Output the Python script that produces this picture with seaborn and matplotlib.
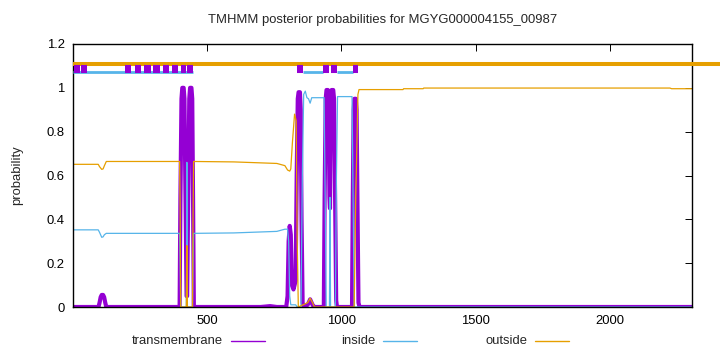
import matplotlib
matplotlib.use("Agg")
import matplotlib.pyplot as plt
from matplotlib.lines import Line2D
import numpy as np
import pandas as pd
import seaborn as sns

# ---------------- data ----------------
title = "TMHMM posterior probabilities for MGYG000004155_00987"
seq_len = 2306

# transmembrane posterior (residue, probability)
tm_pos = [1, 96, 100, 104, 108, 113, 117, 121, 125,
          398, 401, 405, 408, 413, 416, 420, 424, 426, 430, 434, 437, 442, 445, 448, 451,
          700, 735, 760, 795, 800, 804, 808, 812, 816, 822, 830, 834, 838, 841, 846, 849, 852, 856, 860,
          875, 884, 893, 900, 935, 938, 942, 945, 950, 953, 956, 958, 961, 964, 970, 973, 977, 981, 984,
          1040, 1043, 1046, 1049, 1054, 1057, 1060, 1064, 1068, 2306]
tm_val = [0, 0, 0.02, 0.045, 0.055, 0.055, 0.045, 0.02, 0,
          0, 0.5, 0.95, 1.0, 1.0, 0.95, 0.5, 0.05, 0.05, 0.5, 0.95, 1.0, 1.0, 0.95, 0.5, 0,
          0, 0.004, 0, 0, 0.05, 0.3, 0.37, 0.33, 0.1, 0.08, 0.12, 0.6, 0.95, 0.98, 0.98, 0.9, 0.4, 0.02, 0,
          0.01, 0.035, 0.01, 0, 0, 0.5, 0.95, 0.99, 0.99, 0.95, 0.5, 0.45, 0.95, 0.99, 0.99, 0.95, 0.5, 0.03, 0,
          0, 0.5, 0.9, 0.95, 0.95, 0.9, 0.5, 0.02, 0, 0]

# inside posterior
in_pos = [1, 95, 100, 108, 113, 118, 125, 398, 400, 402, 423, 425, 427, 446, 448, 450,
          600, 760, 790, 800, 804, 808, 812, 830, 836, 850, 855, 860, 866, 872, 878, 884, 890,
          936, 940, 944, 956, 958, 960, 978, 982, 986, 1040, 1044, 1048, 2306]
in_val = [0.352, 0.352, 0.34, 0.318, 0.32, 0.33, 0.336, 0.336, 0.2, 0.0, 0.0, 0.66, 0.0, 0.0, 0.2, 0.336,
          0.338, 0.345, 0.355, 0.355, 0.30, 0.05, 0.01, 0.01, 0.0, 0.0, 0.6, 0.97, 0.985, 0.955, 0.95, 0.93, 0.955,
          0.955, 0.5, 0.0, 0.0, 0.5, 0.0, 0.0, 0.6, 0.96, 0.96, 0.5, 0.0, 0.0]

# outside posterior
out_pos = [1, 95, 100, 108, 113, 118, 125, 398, 400, 402, 423, 425, 427, 446, 448, 450,
           600, 760, 790, 800, 808, 812, 818, 826, 832, 836, 840, 875, 884, 893, 900,
           1048, 1054, 1062, 1066, 1230, 1232, 1305, 1307, 2224, 2230, 2306]
out_val = [0.651, 0.651, 0.64, 0.628, 0.63, 0.645, 0.664, 0.664, 0.45, 0.0, 0.0, 0.28, 0.0, 0.0, 0.4, 0.664,
           0.662, 0.655, 0.645, 0.625, 0.62, 0.63, 0.75, 0.88, 0.85, 0.3, 0.0, 0.02, 0.04, 0.02, 0.0,
           0.0, 0.5, 0.97, 0.992, 0.992, 0.996, 0.996, 0.999, 0.999, 0.996, 0.996]

# predicted topology bars (start, end residues)
tm_segments = [(5, 27), (31, 53), (195, 217), (232, 254), (265, 291), (299, 325), (336, 359),
               (370, 392), (403, 422), (426, 448), (835, 858), (932, 954), (962, 984), (1044, 1062)]
inside_segments = [(1, 448), (858, 932), (984, 1044)]
outside_segments = [(1, 2410)]

xticks = [500, 1000, 1500, 2000]
yticks = [0, 0.2, 0.4, 0.6, 0.8, 1.0, 1.2]
ytick_labels = ["0", "0.2", "0.4", "0.6", "0.8", "1", "1.2"]

series_names = ["transmembrane", "inside", "outside"]
colors = {"transmembrane": "#9400d3", "inside": "#56b4e9", "outside": "#e69f00"}

# ---------------- plot ----------------
sns.set_theme(style="white")
plt.rcParams['font.family'] = ['Liberation Sans', 'DejaVu Sans']

W, H = 720, 352
fig = plt.figure(figsize=(W / 100, H / 100), dpi=100)
L, R, T, B = 73, 692, 44, 307
ax = fig.add_axes([L / W, 1 - B / H, (R - L) / W, (B - T) / H])

df_tm = pd.DataFrame({"pos": tm_pos, "prob": tm_val})
df_in = pd.DataFrame({"pos": in_pos, "prob": in_val})
df_out = pd.DataFrame({"pos": out_pos, "prob": out_val})

sns.lineplot(data=df_tm, x="pos", y="prob", ax=ax, color=colors["transmembrane"], lw=3.0,
             estimator=None, sort=False, legend=False)
sns.lineplot(data=df_in, x="pos", y="prob", ax=ax, color=colors["inside"], lw=0.9,
             estimator=None, sort=False, legend=False)
sns.lineplot(data=df_out, x="pos", y="prob", ax=ax, color=colors["outside"], lw=0.9,
             estimator=None, sort=False, legend=False)

# topology bars
for s, e in outside_segments:
    ax.hlines(1.111, s, e, colors=colors["outside"], lw=2.9, capstyle="butt", clip_on=False, zorder=5)
for s, e in inside_segments:
    ax.hlines(1.0717, s, e, colors=colors["inside"], lw=2.0, capstyle="butt", zorder=5)
for s, e in tm_segments:
    ax.hlines(1.087, s, e, colors=colors["transmembrane"], lw=5.8, capstyle="butt", zorder=6)

ax.set_xlim(1, seq_len)
ax.set_ylim(0, 1.2)
ax.set_xticks(xticks)
ax.set_xticklabels([str(x) for x in xticks])
ax.set_yticks(yticks)
ax.set_yticklabels(ytick_labels)
ax.set_xlabel("")
ax.set_ylabel("")
ax.tick_params(direction="in", length=5, width=0.7, top=True, right=True,
               labelsize=9.4, colors="black", pad=6)
for sp in ax.spines.values():
    sp.set_color("black")
    sp.set_linewidth(1.0)

fig.text((L + R) / 2 / W, 1 - 20 / H, title, ha="center", va="center", fontsize=9.4)
fig.text(17 / W, 1 - 175 / H, "probability", rotation=90, ha="center", va="center", fontsize=9.4)

# legend, gnuplot-style
leg_y = 1 - 341 / H
legend_items = [("transmembrane", 223, 231, 265), ("inside", 375, 383, 417), ("outside", 527, 535, 569)]
for name, tx, l0, l1 in legend_items:
    fig.text(tx / W, leg_y, name, ha="right", va="center", fontsize=9.4)
    fig.add_artist(Line2D([l0 / W, l1 / W], [leg_y, leg_y], transform=fig.transFigure,
                          color=colors[name], lw=1.0))

fig.savefig("out.png", dpi=100)
